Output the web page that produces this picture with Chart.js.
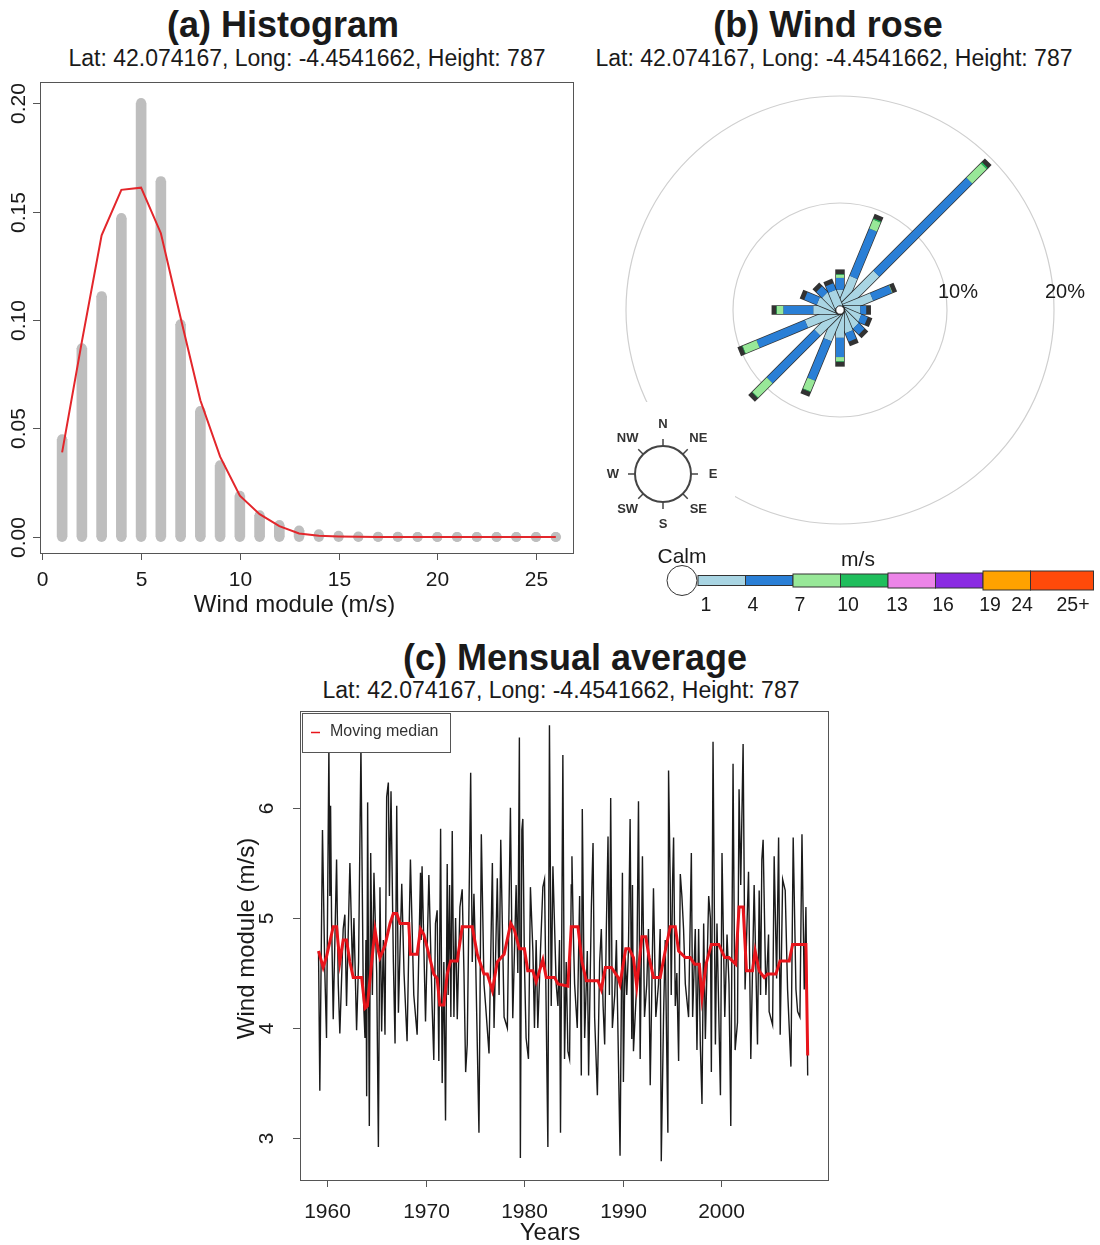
<!DOCTYPE html>
<html>
<head>
<meta charset="utf-8">
<script src="https://cdn.jsdelivr.net/npm/chart.js@4.4.1/dist/chart.umd.min.js"></script>
<style>
  body { margin: 0; background: #fff; width: 1100px; height: 1245px; position: relative; overflow: hidden;
         font-family: "Liberation Sans", Arial, sans-serif; color: #1a1a1a; }
  .title { position: absolute; white-space: nowrap; transform: translateX(-50%); font-weight: bold; font-size: 36px; line-height: 36px; }
  .sub { position: absolute; white-space: nowrap; transform: translateX(-50%); font-size: 23px; line-height: 23px; }
  canvas { position: absolute; }
</style>
</head>
<body>
<div class="title" style="left:283px; top:7px">(a) Histogram</div>
<div class="sub" style="left:307px; top:47px">Lat: 42.074167, Long: -4.4541662, Height: 787</div>
<div class="title" style="left:828px; top:7px">(b) Wind rose</div>
<div class="sub" style="left:834px; top:47px">Lat: 42.074167, Long: -4.4541662, Height: 787</div>
<div class="title" style="left:575px; top:640px">(c) Mensual average</div>
<div class="sub" style="left:561px; top:679px">Lat: 42.074167, Long: -4.4541662, Height: 787</div>

<canvas id="hist" width="590" height="550" style="left:0px; top:75px"></canvas>
<canvas id="rose" width="510" height="550" style="left:590px; top:75px"></canvas>
<canvas id="ts" width="620" height="545" style="left:230px; top:700px"></canvas>

<script>
// ---------- (a) Histograma ----------
const histBins = [1, 2, 3, 4, 5, 6, 7, 8, 9, 10, 11, 12, 13, 14, 15, 16, 17, 18, 19, 20, 21, 22, 23, 24, 25, 26];
const histFreq = [0.045, 0.087, 0.111, 0.147, 0.200, 0.164, 0.098, 0.058, 0.033, 0.019, 0.010, 0.0055, 0.003,
                  0.0012, 0.0005, 0.0002, 0.0001, 0.0001, 0, 0, 0, 0, 0, 0, 0, 0];
const histFit = [0.039, 0.090, 0.139, 0.160, 0.161, 0.140, 0.101, 0.063, 0.037, 0.019, 0.0105, 0.005, 0.0016,
                 0.0005, 0.0002, 0.0001, 0, 0, 0, 0, 0, 0, 0, 0, 0, 0];
const histXTicks = [0, 5, 10, 15, 20, 25];
const histYTicks = [0, 0.05, 0.10, 0.15, 0.20];
const histYLabels = ['0.00', '0.05', '0.10', '0.15', '0.20'];

// ---------- (b) Rosa dos ventos (% por direcao e classe de velocidade) ----------
const roseDirs = ['N', 'NNE', 'NE', 'ENE', 'E', 'ESE', 'SE', 'SSE', 'S', 'SSW', 'SW', 'WSW', 'W', 'WNW', 'NW', 'NNW'];
const roseAngles = [0, 22.5, 45, 67.5, 90, 112.5, 135, 157.5, 180, 202.5, 225, 247.5, 270, 292.5, 315, 337.5];
const roseCalm = 0.3;
const roseSpeed1to4 = [1.6, 3.0, 4.5, 2.9, 1.6, 1.7, 1.8, 1.9, 2.3, 2.7, 2.7, 3.1, 2.2, 1.9, 1.7, 1.6];
const roseSpeed4to7 = [1.1, 4.8, 12.3, 1.9, 0.55, 0.65, 0.75, 0.85, 1.8, 4.0, 6.3, 4.9, 2.8, 1.25, 0.75, 0.65];
const roseSpeed7to10 = [0.3, 0.9, 1.9, 0.05, 0, 0, 0, 0, 0.4, 1.1, 1.9, 1.4, 0.6, 0, 0, 0];
const roseSpeed10to13 = [0.05, 0.1, 0.15, 0, 0, 0, 0, 0, 0.05, 0.05, 0.05, 0.05, 0.05, 0, 0, 0];
const roseRings = [10, 20];
const roseRingLabels = ['10%', '20%'];
const speedColors = ['#a9d5e3', '#2a7fd6', '#98e898', '#1fbe5c', '#ec84e8', '#8a2be2', '#ffa200', '#ff4a0a'];
const speedLabels = ['1', '4', '7', '10', '13', '16', '19', '24', '25+'];
const compassLabels = ['N', 'NE', 'E', 'SE', 'S', 'SW', 'W', 'NW'];

// ---------- (c) Media mensal ----------
const tsYears = [
  1959.14, 1959.27, 1959.54, 1959.78, 1959.95, 1960.19, 1960.29, 1960.36, 1960.46, 1960.63, 1960.97, 1961.14,
  1961.30, 1961.64, 1961.81, 1961.98, 1962.32, 1962.59, 1962.73, 1963.00, 1963.20, 1963.44, 1963.68, 1963.85,
  1963.95, 1964.02, 1964.12, 1964.29, 1964.43, 1964.60, 1964.76, 1965.04, 1965.21, 1965.37, 1965.54, 1965.71,
  1965.88, 1966.05, 1966.22, 1966.33, 1966.49, 1966.73, 1966.90, 1967.07, 1967.24, 1967.58, 1967.81, 1968.12,
  1968.46, 1968.80, 1969.14, 1969.48, 1969.55, 1969.64, 1969.99, 1970.33, 1970.66, 1970.83, 1971.00, 1971.17,
  1971.34, 1971.52, 1971.68, 1971.85, 1972.02, 1972.19, 1972.29, 1972.43, 1972.56, 1972.70, 1972.87, 1973.04,
  1973.21, 1973.48, 1973.71, 1973.89, 1974.06, 1974.22, 1974.57, 1974.73, 1974.90, 1975.08, 1975.41, 1975.65,
  1975.92, 1976.09, 1976.43, 1976.77, 1976.94, 1977.27, 1977.45, 1977.62, 1977.96, 1978.29, 1978.60, 1978.84,
  1979.18, 1979.35, 1979.51, 1979.61, 1979.76, 1979.86, 1980.02, 1980.19, 1980.43, 1980.63, 1980.88, 1981.04,
  1981.21, 1981.38, 1981.65, 1981.89, 1982.06, 1982.40, 1982.56, 1982.74, 1982.91, 1983.24, 1983.42, 1983.58,
  1983.68, 1983.92, 1984.09, 1984.26, 1984.43, 1984.60, 1984.77, 1984.84, 1984.97, 1985.11, 1985.38, 1985.62,
  1985.79, 1985.89, 1986.13, 1986.40, 1986.53, 1986.81, 1986.98, 1987.14, 1987.42, 1987.65, 1987.82, 1988.00,
  1988.16, 1988.33, 1988.50, 1988.64, 1988.77, 1988.94, 1989.18, 1989.35, 1989.72, 1989.96, 1990.06, 1990.23,
  1990.40, 1990.57, 1990.74, 1990.91, 1990.98, 1991.08, 1991.41, 1991.59, 1991.76, 1991.99, 1992.20, 1992.43,
  1992.60, 1992.78, 1993.11, 1993.35, 1993.62, 1993.79, 1993.90, 1994.13, 1994.30, 1994.57, 1994.64, 1994.81,
  1994.91, 1995.05, 1995.15, 1995.32, 1995.48, 1995.66, 1995.83, 1995.99, 1996.16, 1996.34, 1996.67, 1996.95,
  1997.08, 1997.35, 1997.52, 1997.69, 1997.86, 1998.03, 1998.20, 1998.37, 1998.71, 1998.88, 1998.98, 1999.15,
  1999.39, 1999.55, 1999.90, 2000.06, 2000.34, 2000.57, 2000.77, 2000.95, 2001.18, 2001.39, 2001.63, 2001.79,
  2001.96, 2002.20, 2002.40, 2002.75, 2002.98, 2003.32, 2003.66, 2003.83, 2003.97, 2004.10, 2004.23, 2004.51,
  2004.78, 2004.84, 2005.19, 2005.35, 2005.60, 2005.80, 2005.96, 2006.21, 2006.47, 2006.71, 2007.05, 2007.28,
  2007.56, 2007.73, 2007.96, 2008.17, 2008.40, 2008.57, 2008.75
];
const tsWind = [
  4.70, 3.43, 5.80, 4.50, 3.91, 6.55, 5.20, 6.02, 5.00, 4.08, 5.53, 4.40,
  3.95, 4.90, 5.03, 4.20, 5.50, 4.50, 5.00, 3.98, 4.60, 6.55, 4.30, 3.91,
  4.80, 3.38, 6.05, 3.11, 5.59, 4.30, 5.41, 4.50, 2.92, 5.28, 3.97, 4.80,
  3.94, 6.10, 6.23, 5.20, 6.15, 4.60, 3.86, 6.02, 4.14, 5.31, 4.50, 3.88,
  5.53, 4.30, 3.94, 5.41, 4.80, 5.47, 4.06, 5.39, 4.20, 3.71, 4.95, 5.07,
  3.70, 5.81, 3.50, 4.60, 3.16, 5.49, 4.30, 5.30, 4.10, 5.79, 4.10, 5.00,
  4.08, 5.10, 5.26, 4.50, 3.60, 3.85, 6.32, 4.60, 5.22, 4.60, 3.05, 5.76,
  4.40, 4.20, 3.77, 5.50, 4.00, 5.36, 4.30, 5.71, 4.10, 4.00, 6.00, 4.09,
  5.30, 4.50, 6.64, 2.82, 5.80, 5.90, 4.60, 3.91, 3.72, 5.28, 4.70, 4.00,
  4.80, 4.00, 4.70, 5.28, 5.35, 2.92, 6.75, 4.20, 5.47, 4.40, 4.20, 4.80,
  3.05, 6.48, 3.72, 4.60, 3.79, 3.72, 5.30, 5.56, 4.90, 4.40, 4.00, 5.20,
  3.57, 5.99, 3.91, 4.70, 3.57, 5.10, 5.68, 4.10, 3.39, 4.60, 4.90, 4.20,
  3.85, 4.90, 5.74, 4.30, 6.09, 4.00, 4.30, 4.80, 2.84, 5.41, 3.51, 4.70,
  4.30, 4.70, 5.90, 3.90, 5.30, 3.79, 4.40, 6.06, 3.72, 5.56, 4.10, 4.40,
  4.90, 3.48, 5.27, 4.10, 4.40, 4.90, 2.79, 4.10, 4.80, 3.05, 6.34, 5.30,
  4.30, 5.35, 5.73, 4.20, 4.50, 3.70, 5.40, 5.20, 4.90, 4.40, 4.10, 5.59,
  4.10, 4.90, 3.80, 4.90, 3.85, 3.31, 4.95, 3.90, 5.20, 5.00, 3.60, 6.60,
  3.85, 4.95, 3.39, 5.59, 4.10, 4.85, 4.40, 3.11, 6.40, 3.80, 4.05, 6.17,
  5.30, 6.58, 4.35, 5.42, 3.72, 5.30, 3.85, 5.25, 4.30, 5.53, 5.71, 4.30,
  4.85, 4.15, 4.03, 5.56, 4.45, 5.73, 3.94, 5.35, 5.25, 4.35, 3.65, 5.73,
  4.35, 4.15, 4.10, 5.76, 4.35, 5.10, 3.57
];
const medYears = [
  1959.14, 1959.61, 1959.95, 1960.63, 1960.97, 1961.30, 1961.64, 1961.98, 1962.32, 1962.66, 1963.51, 1963.85,
  1964.09, 1964.53, 1964.87, 1965.21, 1965.37, 1965.88, 1966.39, 1966.73, 1967.07, 1967.41, 1967.78, 1968.29,
  1968.46, 1969.14, 1969.48, 1969.82, 1970.33, 1970.83, 1971.17, 1971.44, 1971.85, 1972.19, 1972.53, 1973.21,
  1973.71, 1974.73, 1975.24, 1975.92, 1976.26, 1976.77, 1977.27, 1977.96, 1978.63, 1979.01, 1979.51, 1980.02,
  1980.36, 1980.88, 1981.21, 1981.89, 1982.23, 1983.08, 1983.42, 1984.43, 1984.77, 1985.45, 1985.86, 1986.30,
  1987.48, 1987.82, 1988.23, 1988.84, 1989.52, 1989.72, 1990.30, 1990.64, 1991.08, 1991.41, 1991.93, 1992.33,
  1992.67, 1993.11, 1993.79, 1994.30, 1994.81, 1995.32, 1995.66, 1996.34, 1996.84, 1997.28, 1997.76, 1998.03,
  1998.44, 1998.98, 1999.73, 2000.34, 2000.77, 2001.45, 2001.79, 2002.20, 2002.54, 2003.15, 2003.42, 2003.83,
  2004.34, 2004.68, 2005.53, 2005.94, 2006.88, 2007.22, 2008.57, 2008.75
];
const medWind = [
  4.70, 4.55, 4.65, 4.92, 4.92, 4.60, 4.80, 4.80, 4.60, 4.46, 4.46, 4.18,
  4.20, 4.60, 4.89, 4.70, 4.64, 4.75, 4.95, 5.04, 5.04, 4.95, 4.95, 4.95,
  4.67, 4.67, 4.90, 4.85, 4.67, 4.49, 4.45, 4.21, 4.21, 4.49, 4.61, 4.61,
  4.92, 4.92, 4.67, 4.49, 4.49, 4.34, 4.60, 4.67, 4.95, 4.89, 4.72, 4.72,
  4.52, 4.52, 4.42, 4.62, 4.46, 4.46, 4.40, 4.38, 4.92, 4.92, 4.60, 4.43,
  4.43, 4.35, 4.55, 4.55, 4.46, 4.40, 4.72, 4.72, 4.64, 4.38, 4.83, 4.83,
  4.64, 4.46, 4.46, 4.70, 4.92, 4.92, 4.70, 4.64, 4.64, 4.58, 4.58, 4.28,
  4.58, 4.76, 4.76, 4.64, 4.64, 4.58, 5.10, 5.10, 4.52, 4.52, 4.70, 4.52,
  4.46, 4.49, 4.49, 4.61, 4.61, 4.76, 4.76, 3.75
];
const tsXTicks = [1960, 1970, 1980, 1990, 2000];
const tsYTicks = [3, 4, 5, 6];

const FONT = '"Liberation Sans", Arial, sans-serif';

// Eixos no estilo R: caixa, marcas para fora, rotulos do eixo y girados
const rAxes = {
  id: 'rAxes',
  afterDraw(chart, args, o) {
    if (!o.xTicks) return;
    const { ctx, chartArea: a } = chart;
    const sx = chart.scales.x, sy = chart.scales.y;
    ctx.save();
    ctx.strokeStyle = '#555';
    ctx.lineWidth = 1;
    ctx.strokeRect(Math.round(a.left) + 0.5, Math.round(a.top) + 0.5, Math.round(a.width), Math.round(a.height));
    ctx.fillStyle = '#1a1a1a';
    ctx.font = o.tickFont;
    ctx.textAlign = 'center';
    ctx.textBaseline = 'middle';
    ctx.beginPath();
    o.xTicks.forEach((v, i) => {
      const px = Math.round(sx.getPixelForValue(v)) + 0.5;
      ctx.moveTo(px, a.bottom);
      ctx.lineTo(px, a.bottom + o.tickLen);
      ctx.fillText(o.xLabels[i], px, a.bottom + o.xLabelGap);
    });
    o.yTicks.forEach((v, i) => {
      const py = Math.round(sy.getPixelForValue(v)) + 0.5;
      ctx.moveTo(a.left, py);
      ctx.lineTo(a.left - o.tickLen, py);
      ctx.save();
      ctx.translate(a.left - o.yLabelGap, py);
      ctx.rotate(-Math.PI / 2);
      ctx.fillText(o.yLabels[i], 0, 0);
      ctx.restore();
    });
    ctx.stroke();
    ctx.font = o.titleFont;
    if (o.xTitle) ctx.fillText(o.xTitle, (a.left + a.right) / 2 + o.xTitleShift, a.bottom + o.xTitleGap);
    if (o.yTitle) {
      ctx.save();
      ctx.translate(a.left - o.yTitleGap, (a.top + a.bottom) / 2 + o.yTitleShift);
      ctx.rotate(-Math.PI / 2);
      ctx.fillText(o.yTitle, 0, 0);
      ctx.restore();
    }
    ctx.restore();
  }
};

const baseOptions = (padding, xr, yr) => ({
  responsive: false,
  animation: false,
  devicePixelRatio: 1,
  layout: { padding },
  scales: {
    x: { type: 'linear', display: false, offset: false, min: xr[0], max: xr[1] },
    y: { type: 'linear', display: false, min: yr[0], max: yr[1] }
  }
});

// ---------- Grafico (a) ----------
const histOpts = baseOptions({ left: 40, top: 7, right: 17, bottom: 72 }, [-0.12, 26.87], [-0.0074, 0.2097]);
histOpts.plugins = {
  legend: { display: false }, tooltip: { enabled: false },
  rAxes: {
    xTicks: histXTicks, xLabels: histXTicks.map(String), yTicks: histYTicks, yLabels: histYLabels,
    tickLen: 7, xLabelGap: 27, yLabelGap: 21, tickFont: '21px ' + FONT, titleFont: '24px ' + FONT,
    xTitle: 'Wind module (m/s)', xTitleGap: 52, xTitleShift: -12
  }
};
new Chart(document.getElementById('hist'), {
  type: 'line',
  data: {
    datasets: [
      {
        type: 'line', label: 'Ajuste', order: 1,
        data: histBins.map((b, i) => ({ x: b, y: histFit[i] })),
        borderColor: '#e3262b', borderWidth: 2, pointRadius: 0, tension: 0
      },
      {
        // extremos arredondados das barras
        type: 'scatter', label: 'Extremos', order: 2,
        data: histBins.map((b, i) => ({ x: b, y: histFreq[i] })).concat(histBins.map(b => ({ x: b, y: 0 }))),
        pointRadius: 5, pointBackgroundColor: '#bebebe', pointBorderWidth: 0
      },
      {
        type: 'bar', label: 'Frequencia', order: 3,
        data: histBins.map((b, i) => ({ x: b, y: histFreq[i] })),
        backgroundColor: '#bebebe', barThickness: 10, grouped: false
      }
    ]
  },
  options: histOpts,
  plugins: [rAxes]
});

// ---------- Grafico (b) ----------
const toXY = (r, deg) => ({ x: r * Math.sin(deg * Math.PI / 180), y: r * Math.cos(deg * Math.PI / 180) });
// tension minima evita o "fast path" do Chart.js, que deforma segmentos quase verticais
const spoke = (deg, r0, r1, color, width, cap) => ({
  type: 'line', data: [toXY(r0, deg), toXY(r1, deg)],
  borderColor: color, borderWidth: width, borderCapStyle: cap, borderJoinStyle: 'round',
  tension: 0.0001, pointRadius: 0, fill: false
});
const roseClasses = [roseSpeed1to4, roseSpeed4to7, roseSpeed7to10, roseSpeed10to13];
const roseDatasets = [];
roseAngles.forEach((deg, i) => {
  const total = roseClasses.reduce((s, arr) => s + arr[i], roseCalm);
  roseDatasets.push(spoke(deg, roseCalm, total, 'rgba(28,28,28,0.9)', 9.5, 'square'));
  let r = roseCalm;
  roseClasses.forEach((arr, k) => {
    if (arr[i] > 0) roseDatasets.push(spoke(deg, r, r + arr[i], speedColors[k], 8, 'butt'));
    r += arr[i];
  });
});
// desenha na ordem em que foram criados
roseDatasets.forEach((d, i) => { d.order = roseDatasets.length - i; });

const roseDecor = {
  id: 'roseDecor',
  beforeDatasetsDraw(chart) {
    const { ctx } = chart;
    const sx = chart.scales.x, sy = chart.scales.y;
    const cx = sx.getPixelForValue(0), cy = sy.getPixelForValue(0);
    ctx.save();
    ctx.strokeStyle = '#cfcfcf';
    ctx.lineWidth = 1.2;
    roseRings.forEach(v => {
      ctx.beginPath();
      ctx.arc(cx, cy, sx.getPixelForValue(v) - cx, 0, Math.PI * 2);
      ctx.stroke();
    });
    ctx.restore();
  },
  afterDatasetsDraw(chart) {
    const { ctx } = chart;
    const sx = chart.scales.x, sy = chart.scales.y;
    const cx = sx.getPixelForValue(0), cy = sy.getPixelForValue(0);
    ctx.save();
    ctx.beginPath();
    ctx.arc(cx, cy, sx.getPixelForValue(roseCalm) - cx + 1, 0, Math.PI * 2);
    ctx.fillStyle = '#fff';
    ctx.fill();
    ctx.strokeStyle = '#222';
    ctx.lineWidth = 1;
    ctx.stroke();
    ctx.fillStyle = '#1a1a1a';
    ctx.font = '20px ' + FONT;
    ctx.textAlign = 'center';
    ctx.textBaseline = 'middle';
    roseRings.forEach((v, i) => ctx.fillText(roseRingLabels[i], sx.getPixelForValue(v) + 11, cy - 18));
    ctx.restore();
  },
  afterDraw(chart) {
    const { ctx } = chart;
    ctx.save();
    // bussola
    const ccx = 73, ccy = 399, cr = 28;
    ctx.fillStyle = '#fff';
    ctx.fillRect(10, 327, 135, 133);
    ctx.strokeStyle = '#444';
    ctx.lineWidth = 2;
    ctx.beginPath();
    ctx.arc(ccx, ccy, cr, 0, Math.PI * 2);
    ctx.stroke();
    ctx.lineWidth = 1.5;
    ctx.font = 'bold 13px ' + FONT;
    ctx.fillStyle = '#333';
    ctx.textAlign = 'center';
    ctx.textBaseline = 'middle';
    compassLabels.forEach((lab, i) => {
      const t = i * Math.PI / 4;
      const sn = Math.sin(t), cs = Math.cos(t);
      ctx.beginPath();
      ctx.moveTo(ccx + sn * cr, ccy - cs * cr);
      ctx.lineTo(ccx + sn * (cr + 7), ccy - cs * (cr + 7));
      ctx.stroke();
      ctx.fillText(lab, ccx + sn * 50, ccy - cs * 50);
    });
    // legenda de velocidades
    const x0 = 108, segW = 47.5, lastW = 63, midY = 505.5;
    const segH = [10, 10, 13, 13, 15, 15, 19, 19];
    ctx.strokeStyle = '#333';
    ctx.lineWidth = 1;
    speedColors.forEach((c, k) => {
      const x = x0 + k * segW;
      const w = k === speedColors.length - 1 ? lastW : segW;
      ctx.fillStyle = c;
      ctx.fillRect(x, midY - segH[k] / 2, w, segH[k]);
      ctx.strokeRect(x, midY - segH[k] / 2, w, segH[k]);
    });
    ctx.beginPath();
    ctx.arc(92, 505.5, 15, 0, Math.PI * 2);
    ctx.fillStyle = '#fff';
    ctx.fill();
    ctx.stroke();
    ctx.fillStyle = '#1a1a1a';
    ctx.font = '21px ' + FONT;
    ctx.fillText('Calm', 92, 482);
    ctx.fillText('m/s', 268, 485);
    ctx.font = '19.5px ' + FONT;
    const labX = [116, 163, 210, 258, 307, 353, 400, 432, 483];
    speedLabels.forEach((lab, k) => ctx.fillText(lab, labX[k], 531));
    ctx.restore();
  }
};

const roseOpts = baseOptions({ left: 0, top: 0, right: 10, bottom: 80 }, [-23.364, 23.364], [-21.963, 21.963]);
roseOpts.plugins = { legend: { display: false }, tooltip: { enabled: false } };
new Chart(document.getElementById('rose'), {
  type: 'line',
  data: { datasets: roseDatasets },
  options: roseOpts,
  plugins: [roseDecor]
});

// ---------- Grafico (c) ----------
const tsLegend = {
  id: 'tsLegend',
  afterDatasetsDraw(chart) {
    const { ctx } = chart;
    ctx.save();
    ctx.fillStyle = '#fff';
    ctx.fillRect(72, 13, 148, 39);
    ctx.strokeStyle = '#555';
    ctx.lineWidth = 1;
    ctx.strokeRect(72.5, 13.5, 148, 39);
    ctx.strokeStyle = '#e8141b';
    ctx.lineWidth = 1.5;
    ctx.beginPath();
    ctx.moveTo(81, 32.5);
    ctx.lineTo(90, 32.5);
    ctx.stroke();
    ctx.fillStyle = '#333';
    ctx.font = '16px ' + FONT;
    ctx.textBaseline = 'middle';
    ctx.fillText('Moving median', 100, 32);
    ctx.restore();
  }
};
const tsOpts = baseOptions({ left: 70, top: 11, right: 22, bottom: 65 }, [1957.26, 2010.81], [2.62, 6.88]);
tsOpts.plugins = {
  legend: { display: false }, tooltip: { enabled: false },
  rAxes: {
    xTicks: tsXTicks, xLabels: tsXTicks.map(String), yTicks: tsYTicks, yLabels: tsYTicks.map(String),
    tickLen: 7, xLabelGap: 32, yLabelGap: 33, tickFont: '21px ' + FONT, titleFont: '24px ' + FONT,
    xTitle: 'Years', xTitleGap: 53, xTitleShift: -14,
    yTitle: 'Wind module (m/s)', yTitleGap: 53, yTitleShift: -7
  }
};
new Chart(document.getElementById('ts'), {
  type: 'line',
  data: {
    datasets: [
      {
        label: 'Moving median', order: 0,
        data: medYears.map((x, i) => ({ x, y: medWind[i] })),
        borderColor: '#e8141b', borderWidth: 3, pointRadius: 0, tension: 0
      },
      {
        label: 'Wind module', order: 1,
        data: tsYears.map((x, i) => ({ x, y: tsWind[i] })),
        borderColor: '#1a1a1a', borderWidth: 1.4, pointRadius: 0, tension: 0
      }
    ]
  },
  options: tsOpts,
  plugins: [rAxes, tsLegend]
});
</script>
</body>
</html>
